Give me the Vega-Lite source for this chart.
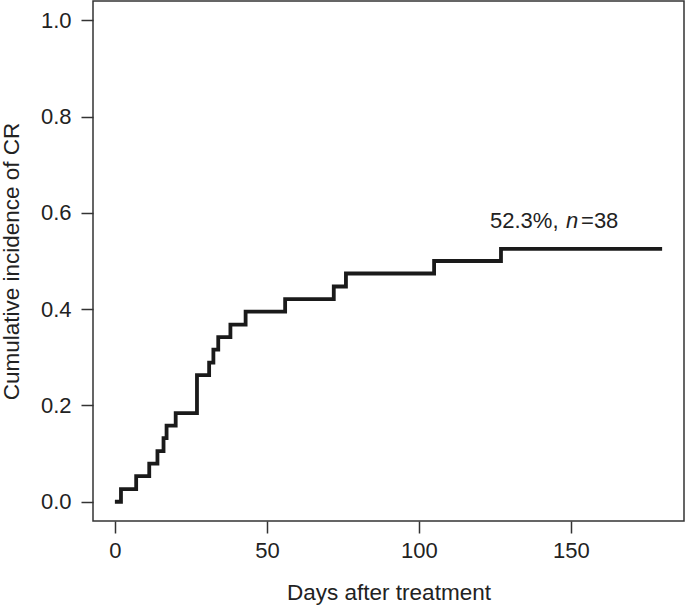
{
  "$schema": "https://vega.github.io/schema/vega-lite/v6.json",
  "autosize": "none",
  "width": 591,
  "height": 520,
  "padding": {"left": 93, "top": 1, "right": 1, "bottom": 84},
  "background": "white",
  "config": {
    "font": "Liberation Sans",
    "view": {"stroke": "#333333", "strokeWidth": 1.5},
    "axis": {
      "grid": false,
      "domain": false,
      "tickColor": "#333333",
      "tickWidth": 1.5,
      "tickSize": 12,
      "labelFont": "Liberation Sans",
      "labelFontSize": 22,
      "labelColor": "#222222",
      "titleFont": "Liberation Sans",
      "titleFontSize": 22.5,
      "titleFontWeight": "normal",
      "titleColor": "#222222"
    }
  },
  "datasets": {
    "cr": [
      {"day": 0, "cuminc": 0},
      {"day": 2, "cuminc": 0.026},
      {"day": 7, "cuminc": 0.053},
      {"day": 11.3, "cuminc": 0.079},
      {"day": 14, "cuminc": 0.105},
      {"day": 16, "cuminc": 0.132},
      {"day": 17, "cuminc": 0.158},
      {"day": 20, "cuminc": 0.184},
      {"day": 27, "cuminc": 0.263},
      {"day": 31, "cuminc": 0.289},
      {"day": 32.4, "cuminc": 0.316},
      {"day": 34, "cuminc": 0.342},
      {"day": 38, "cuminc": 0.368},
      {"day": 43, "cuminc": 0.395},
      {"day": 56, "cuminc": 0.421},
      {"day": 72, "cuminc": 0.447},
      {"day": 76, "cuminc": 0.474},
      {"day": 105, "cuminc": 0.5},
      {"day": 127, "cuminc": 0.525},
      {"day": 180, "cuminc": 0.525}
    ],
    "note": [
      {"day": 123.4, "cuminc": 0.568, "pct": "52.3%,", "n": "n", "count": "=38"}
    ]
  },
  "layer": [
    {
      "data": {"name": "cr"},
      "mark": {"type": "line", "interpolate": "step-after", "color": "#1a1a1a", "strokeWidth": 3.8},
      "encoding": {
        "x": {
          "field": "day",
          "type": "quantitative",
          "scale": {"domain": [-7.2, 187.2], "nice": false, "zero": false},
          "axis": {
            "values": [0, 50, 100, 150],
            "labelPadding": 7,
            "title": "Days after treatment",
            "titleX": 295.5,
            "titleY": 78,
            "titleBaseline": "alphabetic",
            "titleAlign": "center"
          }
        },
        "y": {
          "field": "cuminc",
          "type": "quantitative",
          "scale": {"domain": [-0.04, 1.04], "nice": false, "zero": false},
          "axis": {
            "values": [0, 0.2, 0.4, 0.6, 0.8, 1.0],
            "format": ".1f",
            "labelPadding": 10,
            "title": "Cumulative incidence of CR",
            "titleAngle": -90,
            "titleX": -75,
            "titleY": 260,
            "titleBaseline": "alphabetic",
            "titleAlign": "center"
          }
        }
      }
    },
    {
      "data": {"name": "note"},
      "mark": {"type": "text", "align": "left", "baseline": "alphabetic", "fontSize": 22, "color": "#222222"},
      "encoding": {
        "x": {"field": "day", "type": "quantitative"},
        "y": {"field": "cuminc", "type": "quantitative"},
        "text": {"field": "pct"}
      }
    },
    {
      "data": {"name": "note"},
      "mark": {"type": "text", "align": "left", "baseline": "alphabetic", "fontSize": 22, "fontStyle": "italic", "dx": 76, "color": "#222222"},
      "encoding": {
        "x": {"field": "day", "type": "quantitative"},
        "y": {"field": "cuminc", "type": "quantitative"},
        "text": {"field": "n"}
      }
    },
    {
      "data": {"name": "note"},
      "mark": {"type": "text", "align": "left", "baseline": "alphabetic", "fontSize": 22, "dx": 91, "color": "#222222"},
      "encoding": {
        "x": {"field": "day", "type": "quantitative"},
        "y": {"field": "cuminc", "type": "quantitative"},
        "text": {"field": "count"}
      }
    }
  ]
}
